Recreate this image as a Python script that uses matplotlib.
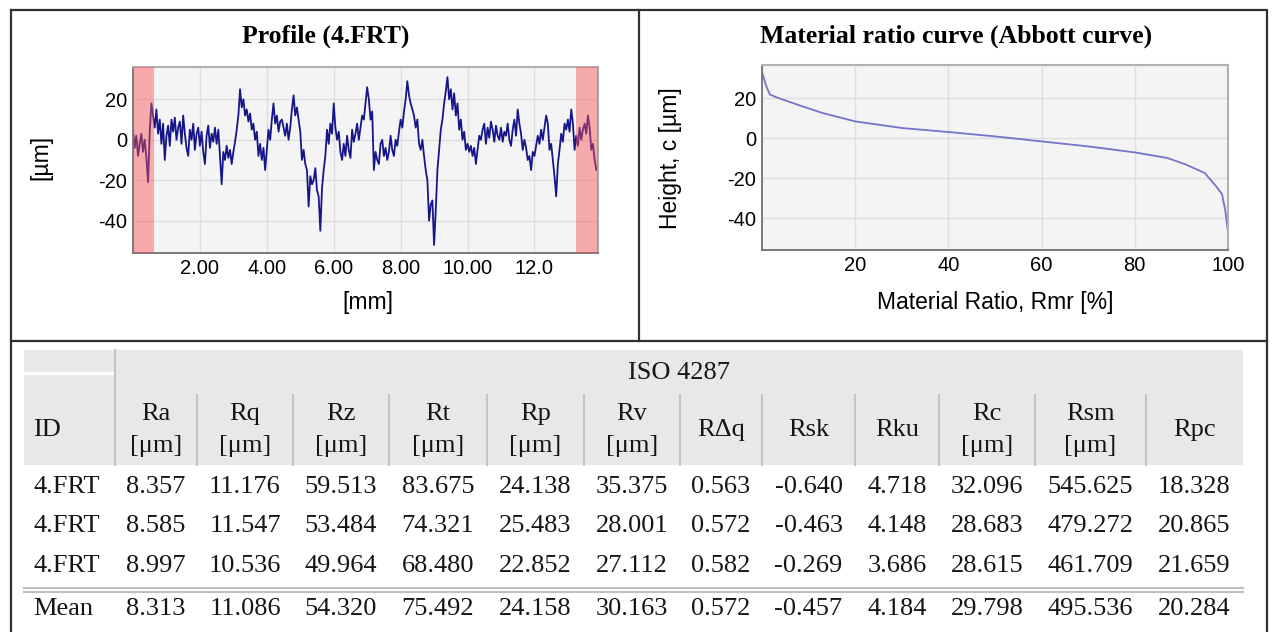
import numpy as np
import matplotlib
matplotlib.use('Agg')
import matplotlib.pyplot as plt
from matplotlib.patches import Rectangle

plt.rcParams['axes.unicode_minus'] = False

# profile heights [µm], one value every 0.05 mm
profile_step_mm = 0.05
profile_um = [
    5, -4, 2, -8, -2, 3, -6, 0, -9, -21, 4, 18, 12, 6, 15, 3, 10, -2, 8, -10,
    2, 7, -3, 10, 4, 11, 0, 6, 9, -2, 12, 3, -4, -8, 5, 0, 8, -5, 3, 6,
    -3, 4, -6, -12, 2, 7, -4, 3, -1, 6, -2, 5, -8, -22, -6, -10, -3, -9, -5, -12,
    -6, -1, 5, 12, 25, 16, 20, 12, 15, 9, 13, 5, 8, 0, 4, -8, -2, -10, -4, -15,
    -5, 5, 0, 10, 18, 8, 12, 4, 9, 10, 6, 2, 8, 0, 6, 15, 22, 12, 16, 10,
    4, -10, -5, -12, -15, -33, -18, -22, -20, -14, -25, -28, -45, -24, -15, -8, 5, -2, 8, 3,
    18, 6, 0, 4, -6, -10, -2, -8, 2, -5, -9, 5, -1, 3, 8, 0, 6, 12, 10, 18,
    26, 20, 10, 14, -15, -6, -10, -12, -2, 0, -8, -4, -10, -6, 2, -5, -8, 0, -3, 4,
    10, 6, 14, 20, 29, 22, 18, 15, 12, 6, 10, -2, -5, 0, -8, -15, -20, -40, -32, -30,
    -52, -35, -15, -5, 5, 10, 18, 24, 31, 20, 25, 15, 23, 12, 18, 5, 10, 0, 4, -5,
    -2, -6, -3, -8, -4, -12, -5, 2, 0, 5, 8, -2, 6, 1, 9, 5, -1, 7, 2, 0,
    6, -1, 4, 2, 8, 0, -3, 5, 10, 2, 15, 8, 3, -5, 0, -4, -10, -8, -15, -6,
    -8, -3, 2, -2, 5, 0, 6, 12, 8, -5, -2, -10, -18, -28, -12, -5, 3, -1, 8, 5,
    10, 4, 15, 8, -5, 2, -3, 6, 0, 5, 8, 3, 12, 6, -5, -2, -10, -15, -14,
]
cutoff_mm = [(0.0, 0.62), (13.25, 13.9)]   # red excluded zones

# material ratio curve
abbott_mr = [0, 0.9, 1.7, 3.5, 8.7, 13, 20, 30, 40, 50, 60, 70, 80, 87, 91, 95, 97.4, 98.7, 99.4, 100]
abbott_h = [33, 26, 21.7, 20, 15.8, 12.5, 8.3, 5, 3, 0.8, -1.7, -4.2, -7.2, -10, -13.3, -17.5, -24, -28, -36, -47]

# table
params = ['Ra', 'Rq', 'Rz', 'Rt', 'Rp', 'Rv', 'RΔq', 'Rsk', 'Rku', 'Rc', 'Rsm', 'Rpc']
units = ['[μm]'] * 6 + ['', '', '', '[μm]', '[μm]', '']
row_ids = ['4.FRT', '4.FRT', '4.FRT', 'Mean']
rows = [
    ['8.357', '11.176', '59.513', '83.675', '24.138', '35.375', '0.563', '-0.640', '4.718', '32.096', '545.625', '18.328'],
    ['8.585', '11.547', '53.484', '74.321', '25.483', '28.001', '0.572', '-0.463', '4.148', '28.683', '479.272', '20.865'],
    ['8.997', '10.536', '49.964', '68.480', '22.852', '27.112', '0.582', '-0.269', '3.686', '28.615', '461.709', '21.659'],
    ['8.313', '11.086', '54.320', '75.492', '24.158', '30.163', '0.572', '-0.457', '4.184', '29.798', '495.536', '20.284'],
]

W, H = 1273, 632
fig = plt.figure(figsize=(W / 100, H / 100), dpi=100, facecolor='white')

# overlay in pixel coordinates for frames, titles and the table
ov = fig.add_axes([0, 0, 1, 1], zorder=0)
ov.set_xlim(0, W)
ov.set_ylim(H, 0)
ov.axis('off')

def px_axes(x0, y0, x1, y1):
    return fig.add_axes([x0 / W, 1 - y1 / H, (x1 - x0) / W, (y1 - y0) / H], zorder=2)

sans = 'Liberation Sans'
serif = 'Liberation Serif'

def style(ax):
    ax.set_facecolor('#f4f4f4')
    ax.grid(True, color='#dedede', linewidth=1)
    ax.set_axisbelow(True)
    ax.tick_params(length=0, labelsize=14.5, pad=4)
    for lab in ax.get_xticklabels() + ax.get_yticklabels():
        lab.set_family(sans)
    for s in ['left', 'bottom']:
        ax.spines[s].set_color('#707070')
        ax.spines[s].set_linewidth(1.3)
    for s in ['top', 'right']:
        ax.spines[s].set_color('#b0b0b0')
        ax.spines[s].set_linewidth(1.5)

# profile
ax1 = px_axes(133, 67, 598, 253)
x_mm = np.arange(len(profile_um)) * profile_step_mm
ax1.plot(x_mm, profile_um, color='#16168a', linewidth=1.3, zorder=2)
for a, b in cutoff_mm:
    ax1.axvspan(a, b, color='#fa5050', alpha=0.45, linewidth=0, zorder=3)
ax1.set_xlim(0, 13.9)
ax1.set_ylim(-56, 36)
ax1.set_xticks([2, 4, 6, 8, 10, 12])
ax1.set_xticklabels(['2.00', '4.00', '6.00', '8.00', '10.00', '12.0'])
ax1.set_yticks([-40, -20, 0, 20])
style(ax1)

# abbott curve
ax2 = px_axes(762, 65, 1228, 250)
ax2.plot(abbott_mr, abbott_h, color='#7474c8', linewidth=1.3)
ax2.set_xlim(0, 100)
ax2.set_ylim(-56, 36.5)
ax2.set_xticks([20, 40, 60, 80, 100])
ax2.set_yticks([-40, -20, 0, 20])
style(ax2)

# titles and axis labels
ov.text(326, 36, 'Profile (4.FRT)', ha='center', va='center', family=serif,
        fontweight='bold', fontsize=18.5)
ov.text(956, 36, 'Material ratio curve (Abbott curve)', ha='center', va='center',
        family=serif, fontweight='bold', fontsize=18.5)
ov.text(368, 303, '[mm]', ha='center', va='center', family=sans, fontsize=16.5)
ov.text(41, 157, '[µm]', ha='center', va='center', rotation=90, family=sans, fontsize=16.5)
ov.text(995, 302, 'Material Ratio, Rmr [%]', ha='center', va='center', family=sans, fontsize=16.5)
ov.text(670, 158, 'Height, c [µm]', ha='center', va='center', rotation=90, family=sans, fontsize=16.5)

# frames
frame = dict(color='#303030', linewidth=1.6)
ov.plot([11, 1267, 1267, 11, 11], [10, 10, 640, 640, 10], **frame)
ov.plot([639, 639], [10, 341], **frame)
ov.plot([11, 1267], [341, 341], **frame)

# table
col_edges = [24, 115, 197, 293, 389, 487, 584, 680, 762, 855, 939, 1035, 1146, 1243]
ov.add_patch(Rectangle((24, 350), 1243 - 24, 465 - 350, facecolor='#e8e8e8', edgecolor='none'))
ov.plot([24, 113], [373, 373], color='white', linewidth=2.5)
ov.plot([115, 115], [350, 465], color='#c4c4c4', linewidth=1.5)
for xe in col_edges[2:-1]:
    ov.plot([xe, xe], [395, 465], color='#c4c4c4', linewidth=1.5)
ov.plot([24, 1243], [588, 588], color='#c0c0c0', linewidth=1.5)
ov.plot([24, 1243], [592, 592], color='#c0c0c0', linewidth=1.5)

tfs = 19
ink = '#151515'
ov.text((col_edges[1] + col_edges[-1]) / 2, 373, 'ISO 4287', ha='center', va='center',
        family=serif, fontsize=tfs, color=ink)
ov.text(33, 430, 'ID', ha='left', va='center', family=serif, fontsize=tfs, color=ink)
for i, (p, u) in enumerate(zip(params, units)):
    cx = (col_edges[i + 1] + col_edges[i + 2]) / 2
    if u:
        ov.text(cx, 414, p, ha='center', va='center', family=serif, fontsize=tfs, color=ink)
        ov.text(cx, 446, u, ha='center', va='center', family=serif, fontsize=tfs, color=ink)
    else:
        ov.text(cx, 430, p, ha='center', va='center', family=serif, fontsize=tfs, color=ink)

row_y = [487, 526, 566, 609]
for ry, rid, vals in zip(row_y, row_ids, rows):
    ov.text(33, ry, rid, ha='left', va='center', family=serif, fontsize=tfs, color=ink)
    for i, v in enumerate(vals):
        cx = (col_edges[i + 1] + col_edges[i + 2]) / 2
        ov.text(cx, ry, v, ha='center', va='center', family=serif, fontsize=tfs, color=ink)

fig.savefig('out.png', dpi=100, facecolor='white')
